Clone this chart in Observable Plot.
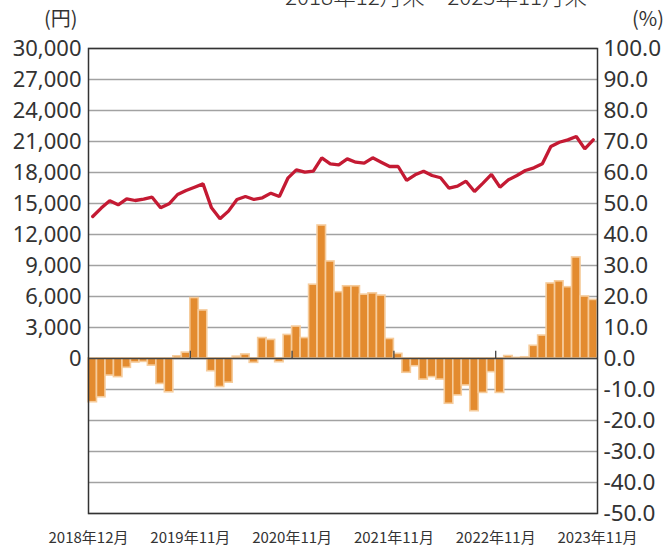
<!DOCTYPE html>
<html><head><meta charset="utf-8">
<script src="https://cdn.jsdelivr.net/npm/d3@7"></script>
<script src="https://cdn.jsdelivr.net/npm/@observablehq/plot@0.6"></script>
<style>
body{margin:0;background:#fff;}
#wrap{position:relative;width:666px;height:552px;overflow:hidden;font-family:"Noto Sans CJK JP","Noto Sans",sans-serif;color:#333;}
#wrap svg{position:absolute;left:0;top:0;}
.lbl{position:absolute;white-space:nowrap;line-height:1;}
#title{top:-16px;left:285px;font-size:22.5px;font-weight:300;}
#yen{top:8px;left:44px;font-size:20px;}
#pct{top:8px;left:632px;font-size:20px;}
</style></head>
<body>
<div id="wrap">
  <div class="lbl" id="title">2018年12月末～2023年11月末</div>
  <div class="lbl" id="yen">(円)</div>
  <div class="lbl" id="pct">(%)</div>
</div>
<script>
// Monthly categories: 2018-12 … 2023-11 (60 months)
const months = d3.utcMonth.range(new Date(Date.UTC(2018,11,1)), new Date(Date.UTC(2023,11,1))).map(d3.utcFormat("%Y-%m"));

// Price (yen), left axis
const price = [
  13740,14560,15260,14870,15450,15290,15420,15610,14580,14970,
  15870,16260,16580,16900,14580,13520,14260,15390,15680,15390,
  15550,16000,15680,17450,18260,18030,18130,19420,18840,18740,
  19320,19000,18900,19420,19000,18580,18580,17230,17780,18130,
  17710,17490,16480,16680,17160,16160,16970,17810,16580,17290,
  17710,18190,18450,18840,20520,20930,21160,21480,20290,21160
];

// Change (%), right axis
const change = [
  -14.1,-12.5,-5.5,-6.0,-3.0,-1.3,-1.1,-2.3,-8.2,-10.9,
  0.7,1.9,19.5,15.5,-4.1,-9.2,-7.8,0.6,1.3,-1.4,
  6.6,6.0,-1.2,7.6,10.3,6.6,23.8,42.9,31.3,21.4,
  23.3,23.3,20.6,21.0,20.3,6.3,1.5,-4.6,-2.5,-6.8,
  -6.0,-6.8,-14.6,-11.9,-8.7,-17.0,-11.1,-4.4,-11.1,0.8,
  0.2,0.4,4.1,7.4,24.2,24.9,23.0,32.6,20.0,18.9
];

// Tick labels
const xLabels = ["2018年12月","2019年11月","2020年11月","2021年11月","2022年11月","2023年11月"];
const yenLabels = ["0","3,000","6,000","9,000","12,000","15,000","18,000","21,000","24,000","27,000","30,000"];
const pctLabels = ["-50.0","-40.0","-30.0","-20.0","-10.0","0.0","10.0","20.0","30.0","40.0","50.0","60.0","70.0","80.0","90.0","100.0"];

const yenMax = 30000, pctMax = 100; // 30,000 yen aligns with 100%
const pctTicks = pctLabels.map(Number);
const yenTicks = yenLabels.map((s, i) => i * pctMax / (yenLabels.length - 1));
const xTicks = xLabels.map((s, i) => i === 0 ? 0 : months.indexOf(s.replace(/年(\d+)月/, (m, mm) => "-" + mm.padStart(2, "0"))) + 1);

const data = months.map((m, i) => ({i, m, price: price[i], change: change[i]}));
const numFont = "'Noto Sans', sans-serif";

const chart = Plot.plot({
  width: 666, height: 552,
  marginTop: 48, marginBottom: 39, marginLeft: 88, marginRight: 69,
  x: {domain: [0, months.length], axis: null},
  y: {domain: [-50, 100], axis: null},
  style: {background: "transparent"},
  marks: [
    Plot.gridY(pctTicks, {stroke: "#a2a2a2", strokeOpacity: 1, strokeWidth: 1.5}),
    Plot.rectY(data, {x1: "i", x2: d => d.i + 1, y: "change", fill: "#E38B2F", stroke: "#F6CC9C", strokeWidth: 1.6}),
    Plot.ruleY([0], {stroke: "#444", strokeWidth: 1.5}),
    Plot.ruleX(xTicks.slice(1, -1), {y1: 0, y2: 2.3, stroke: "#444", strokeWidth: 1.3}),
    Plot.line(data, {x: d => d.i + 0.5, y: d => d.price / yenMax * pctMax, stroke: "#C41A33", strokeWidth: 3.3, strokeLinejoin: "miter"}),
    Plot.frame({stroke: "#333", strokeWidth: 1.5}),
    Plot.axisY({anchor: "left", ticks: yenTicks, tickFormat: d => yenLabels[Math.round(d / 10)], tickSize: 0, tickPadding: 7, fontSize: 22, fontFamily: numFont, label: null, fill: "#333"}),
    Plot.axisY({anchor: "right", ticks: pctTicks, tickFormat: d => pctLabels[pctTicks.indexOf(d)], tickSize: 0, tickPadding: 6, fontSize: 22.5, fontFamily: numFont, label: null, fill: "#333"}),
    Plot.axisX({anchor: "bottom", ticks: xTicks, tickFormat: d => xLabels[xTicks.indexOf(d)], tickSize: 0, tickPadding: 19, fontSize: 15, fontFamily: "'Noto Sans CJK JP', sans-serif", label: null, fill: "#333"})
  ]
});
document.getElementById("wrap").prepend(chart);
</script>
</body></html>
